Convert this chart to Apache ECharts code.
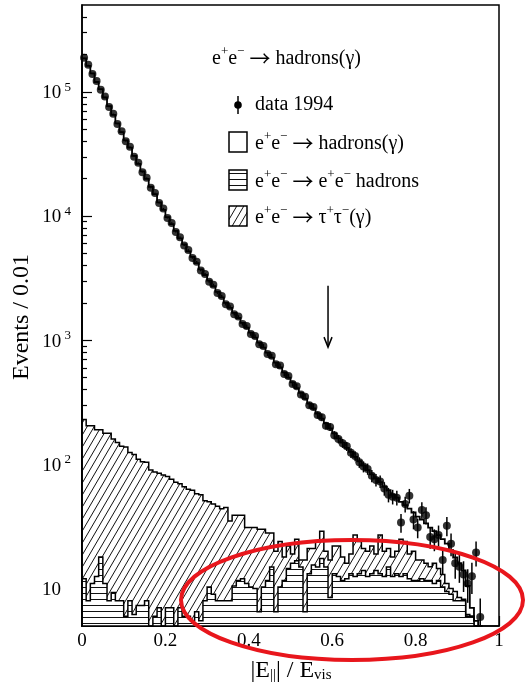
<!DOCTYPE html>
<html><head><meta charset="utf-8">
<script src="https://cdn.jsdelivr.net/npm/echarts@6/dist/echarts.min.js"></script>
<style>html,body{margin:0;padding:0;background:#fff}#c{width:529px;height:693px}</style>
</head><body><div id="c"></div>
<script>
// ---- data (bins of width 0.01 in |E_par|/E_vis, starting at 0) ----
const binWidth = 0.01;
const mcHadrons = [
185800,161800,140800,119800,104800,89800,76600,65100,55450,47160,
40560,35380,30380,26190,22800,19800,17110,14910,12815,11120,
9720,8525,7530,6530,5835,5137,4618,4112,3663,3299,
2970,2672,2404,2166,1955,1785,1621,1471,1341,1229,
1119,1019,925,840,767,697,640,579,532,478,
438,387,359,322,288,261,233,205,194,178,
156,140,132,120,107,88,82,77,70,61,
58,45,46,41,39,34,25,23,25,21,
21,19,17.5,16,13,12.5,12,12,10.4,8.3,
7.5,5.8,4.3,1,1.5,0];
const mcTauTau = [
218,197,194,177.5,172,167,170,150.7,142,132,
132,117,113.8,102.7,97.7,96,86,81,78,78,
73,69,68,63,60,57,56.5,51.5,51.5,43,
39.7,39,38,36,37,27,28.5,27.4,27,20,
20.7,21,23.5,19.7,16.4,13.1,13.5,13.7,6.4,7.5,
3,8.2,2.1,10.5,7.8,5.5,9.1,11.5,5.1,8.5,
8.8,9.5,6.4,4,5.8,14.5,10.8,7,7.5,8.8,
5,13.8,7.5,6.1,5.5,6.8,12.5,10.8,7,8.4,
5.4,5,4.4,3.4,5,2.9,2.7,1.5,1,1.5,
0.5,0.2,0.2,0,0,0];
const mcTwoPhoton = [
12,8,11,12.5,18,11,8,9.3,8,8,
6,8,6.2,7.3,7.3,8,4,6,7,4,
7,7,4,7,6,6,5.5,6.5,5.5,8,
10.3,9,8,8,8,8,10.5,11.6,12,11,
10.3,10,6.5,10.3,11.6,14.9,6.5,10.3,11.6,14.5,
16,16.8,14.9,6.5,13.2,15.5,14.9,17.5,14.9,8.5,
13.2,12.5,11.6,12,13.2,12.5,13.2,14,12.5,13.2,
14,13.2,12.5,14.9,12.5,13.2,12.5,13.2,12,11.6,
11.6,12,11.6,11.6,11,11.6,10.3,9.5,9,8,
8,8,6,6,4,0];
const data1994 = [
188000,165000,139000,122000,104000,91500,75500,66500,55000,48200,
40000,36100,30000,26900,22500,20300,16900,15300,12700,11500,
9650,8800,7450,6750,5800,5330,4600,4280,3650,3420,
2960,2800,2400,2270,1950,1870,1620,1550,1350,1300,
1120,1080,930,900,775,750,640,625,535,515,
445,425,365,350,300,290,250,240,205,200,
172,160,148,140,124,117,104,96,92,81,
75,73,64,57,55,54,34,48,56,36,
31,43,39,26,25,27,17,32,23,16,
15,13,11,12.6,19.5,5.9];
const xTicks = [0, 0.2, 0.4, 0.6, 0.8, 1];
const yMajorTicks = [10, 100, 1000, 10000, 100000];
const yMinorTicks = [6,7,8,9,20,30,40,50,60,70,80,90,200,300,400,500,600,700,800,900,
  2000,3000,4000,5000,6000,7000,8000,9000,20000,30000,40000,50000,60000,70000,80000,90000,
  200000,300000,400000];
const yRange = [5, 500000];
const cutArrow = {x: 0.59, from: 2750, to: 880};

// ---- derived stacks ----
const tauTop = mcTwoPhoton.map((v, i) => v + mcTauTau[i]);
const totalMC = tauTop.map((v, i) => v + mcHadrons[i]);
const dataPoints = data1994.map((v, i) => [(i + 0.5) * binWidth, v, Math.sqrt(v)]);

const F = 'Liberation Serif';
function hatchCanvas() {
  const c = document.createElement('canvas'); c.width = 7; c.height = 12;
  const g = c.getContext('2d'); g.fillStyle = '#fff'; g.fillRect(0, 0, 7, 12);
  g.strokeStyle = '#111'; g.lineWidth = 1; g.beginPath();
  [-7, 0, 7].forEach(dx => { g.moveTo(dx, 12); g.lineTo(dx + 7, 0); });
  g.stroke(); return c;
}
function hlineCanvas() {
  const c = document.createElement('canvas'); c.width = 4; c.height = 6;
  const g = c.getContext('2d'); g.fillStyle = '#fff'; g.fillRect(0, 0, 4, 6);
  g.fillStyle = '#111'; g.fillRect(0, 5, 4, 1); return c;
}
const hatch = {image: hatchCanvas(), repeat: 'repeat'};
const hlines = {image: hlineCanvas(), repeat: 'repeat'};

function stepPoints(api, tops) {
  const pts = [api.coord([0, yRange[0]])];
  for (let k = 0; k < tops.length; k++) {
    const v = Math.min(Math.max(tops[k], yRange[0]), yRange[1]);
    pts.push(api.coord([k * binWidth, v]));
    pts.push(api.coord([(k + 1) * binWidth, v]));
  }
  pts.push(api.coord([tops.length * binWidth, yRange[0]]));
  return pts;
}

const chart = echarts.init(document.getElementById('c'));
const supRich = {
  n: {fontSize: 20, fontFamily: F, color: '#000', lineHeight: 24, verticalAlign: 'bottom'},
  ar: {fontSize: 21, fontFamily: 'Noto Sans CJK SC', color: '#000', lineHeight: 24, verticalAlign: 'bottom'},
  sup: {fontSize: 13, fontFamily: F, color: '#000', lineHeight: 14, verticalAlign: 'top', padding: [0, 0, 12, 0]}
};
const AR = '{n| }{ar|→}{n| }';
const legendRows = [
  {y: 142, text: '{n|e}{sup|+}{n|e}{sup|−}' + AR + '{n|hadrons(γ)}', fill: '#fff'},
  {y: 180, text: '{n|e}{sup|+}{n|e}{sup|−}' + AR + '{n|e}{sup|+}{n|e}{sup|−}{n| hadrons}', fill: hlines},
  {y: 216, text: '{n|e}{sup|+}{n|e}{sup|−}' + AR + '{n|τ}{sup|+}{n|τ}{sup|−}{n|(γ)}', fill: hatch}
];
const graphic = [
  {type: 'text', x: 212, y: 57, style: {text: '{n|e}{sup|+}{n|e}{sup|−}' + AR + '{n|hadrons(γ)}', rich: supRich, verticalAlign: 'middle', align: 'left'}},
  {type: 'line', shape: {x1: 238, y1: 96, x2: 238, y2: 114}, style: {stroke: '#000', lineWidth: 1.5}},
  {type: 'circle', shape: {cx: 238, cy: 105, r: 3.8}, style: {fill: '#000'}},
  {type: 'text', x: 255, y: 105, style: {text: 'data 1994', font: '20px "Liberation Serif"', fill: '#000', verticalAlign: 'middle'}},
  {type: 'text', x: 22, y: 317, rotation: Math.PI / 2, style: {text: 'Events / 0.01', font: '24px "Liberation Serif"', fill: '#000', align: 'center', verticalAlign: 'middle'}},
  {type: 'text', x: 291, y: 671, style: {text: '{n||E}{sub|||}{n|| / E}{sub|vis}', align: 'center', verticalAlign: 'middle', rich: {
    n: {fontSize: 24, fontFamily: F, color: '#000', lineHeight: 24, verticalAlign: 'top'},
    sub: {fontSize: 15, fontFamily: F, color: '#000', lineHeight: 14, verticalAlign: 'bottom', padding: [14, 0, 0, 0]}}}},
  {type: 'ellipse', z: 100, shape: {cx: 352, cy: 600, rx: 171, ry: 60}, style: {fill: 'none', stroke: '#e8161c', lineWidth: 4}}
];
legendRows.forEach(r => {
  graphic.push({type: 'rect', shape: {x: 229, y: r.y - 10, width: 18, height: 20}, style: {fill: r.fill, stroke: '#000', lineWidth: 1.5}});
  graphic.push({type: 'text', x: 255, y: r.y, style: {text: r.text, rich: supRich, verticalAlign: 'middle', align: 'left'}});
});

const axisBlack = {color: '#000', width: 1.5};
chart.setOption({
  animation: false,
  backgroundColor: '#fff',
  grid: {left: 82, top: 5, width: 417, height: 621, show: true, borderColor: '#000', borderWidth: 1.5, backgroundColor: 'transparent'},
  xAxis: {type: 'value', min: xTicks[0], max: xTicks[xTicks.length - 1], interval: 0.2,
    axisLine: {lineStyle: axisBlack}, splitLine: {show: false},
    axisTick: {inside: true, length: 10, lineStyle: {color: '#000', width: 1.2}},
    minorTick: {show: true, splitNumber: 4, length: 5, lineStyle: {color: '#000', width: 1.2}},
    axisLabel: {fontSize: 19, fontFamily: F, color: '#000', margin: 6}},
  yAxis: [
    {type: 'log', logBase: 10, min: yRange[0], max: yRange[1], position: 'left',
      axisLine: {show: true, lineStyle: axisBlack}, splitLine: {show: false},
      axisTick: {inside: true, length: 10, customValues: yMajorTicks, lineStyle: {color: '#000', width: 1.2}},
      axisLabel: {customValues: yMajorTicks, margin: 11, color: '#000',
        formatter: v => { const e = Math.round(Math.log10(v)); return e === 1 ? '{b|10}{p| }' : '{b|10}{s| ' + e + '}'; },
        rich: {
          b: {fontSize: 19, fontFamily: F, color: '#000', lineHeight: 22, verticalAlign: 'bottom'},
          s: {fontSize: 13, fontFamily: F, color: '#000', lineHeight: 14, verticalAlign: 'top', padding: [0, 0, 13, 0]},
          p: {fontSize: 13, fontFamily: F, width: 10}
        }}},
    {type: 'log', logBase: 10, min: yRange[0], max: yRange[1], position: 'left', offset: 0,
      axisLine: {show: false}, splitLine: {show: false}, axisLabel: {show: false},
      axisTick: {inside: true, length: 5, customValues: yMinorTicks, lineStyle: {color: '#000', width: 1.2}}}
  ],
  series: [
    {type: 'custom', name: 'tau', z: 2, silent: true, data: [[0, 10]],
      renderItem: (p, api) => ({type: 'polygon', shape: {points: stepPoints(api, tauTop)}, style: {fill: hatch, stroke: '#000', lineWidth: 1.5}})},
    {type: 'custom', name: 'twophoton', z: 3, silent: true, data: [[0, 10]],
      renderItem: (p, api) => ({type: 'polygon', shape: {points: stepPoints(api, mcTwoPhoton)}, style: {fill: hlines, stroke: '#000', lineWidth: 1.5}})},
    {type: 'custom', name: 'hadrons', z: 4, silent: true, data: [[0, 10]],
      renderItem: (p, api) => ({type: 'polyline', shape: {points: stepPoints(api, totalMC)}, style: {fill: null, stroke: '#000', lineWidth: 1.8}})},
    {type: 'custom', name: 'errors', z: 5, silent: true, data: dataPoints,
      renderItem: (p, api) => {
        const x = api.value(0), v = api.value(1), e = api.value(2);
        const a = api.coord([x, Math.max(v - e, yRange[0])]);
        const b = api.coord([x, Math.min(v + e, yRange[1])]);
        return {type: 'line', shape: {x1: a[0], y1: a[1], x2: b[0], y2: b[1]}, style: {stroke: '#000', lineWidth: 1.5}};
      }},
    {type: 'scatter', name: 'data 1994', z: 6, silent: true, symbol: 'circle', symbolSize: 8,
      itemStyle: {color: '#000'}, data: dataPoints.map(d => [d[0], d[1]])},
    {type: 'custom', name: 'arrow', z: 7, silent: true, data: [[cutArrow.x, cutArrow.from, cutArrow.to]],
      renderItem: (p, api) => {
        const a = api.coord([api.value(0), api.value(1)]);
        const b = api.coord([api.value(0), api.value(2)]);
        return {type: 'group', children: [
          {type: 'line', shape: {x1: a[0], y1: a[1], x2: b[0], y2: b[1]}, style: {stroke: '#000', lineWidth: 1.5}},
          {type: 'polyline', shape: {points: [[b[0] - 4, b[1] - 10], [b[0], b[1]], [b[0] + 4, b[1] - 10]]}, style: {stroke: '#000', lineWidth: 1.5, fill: null}}
        ]};
      }}
  ],
  graphic: graphic
});
</script></body></html>
